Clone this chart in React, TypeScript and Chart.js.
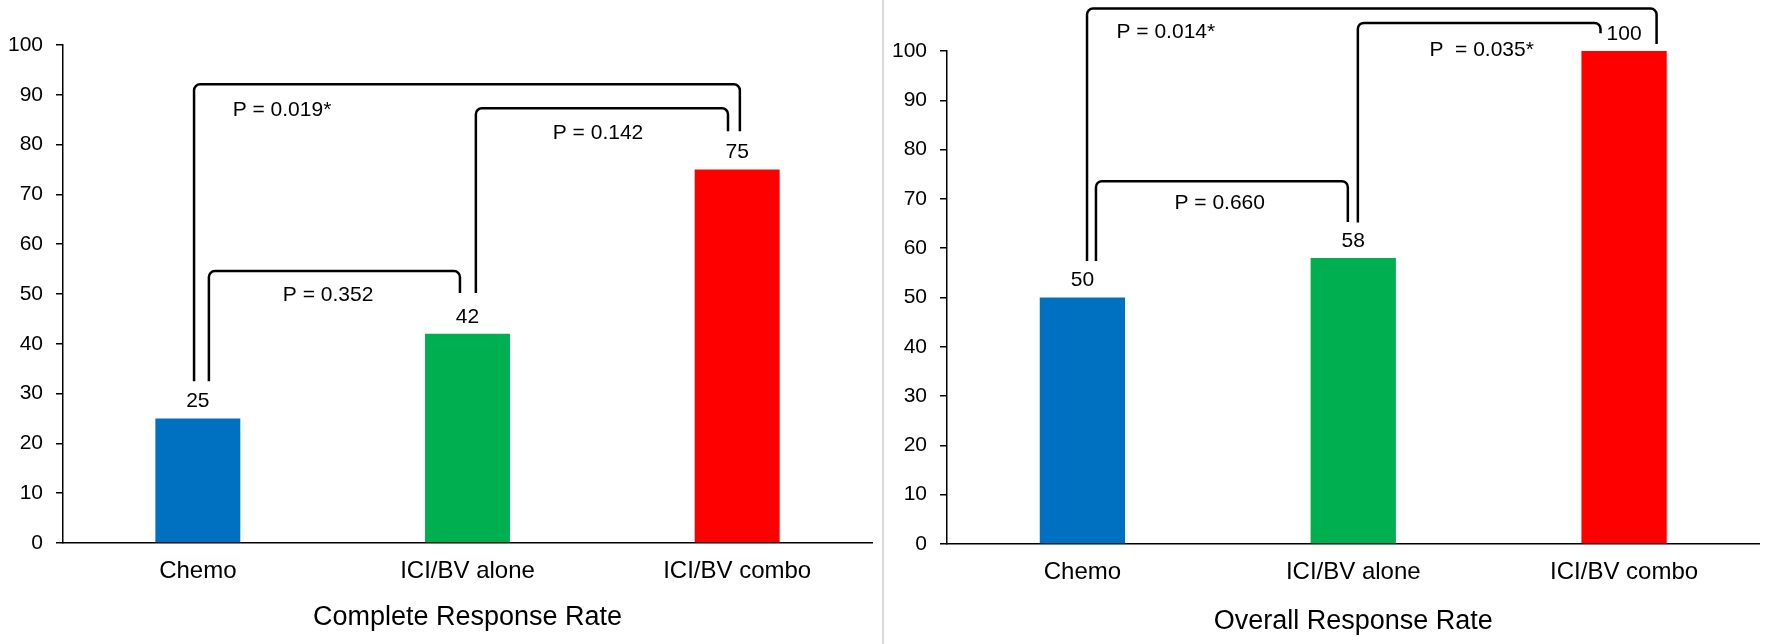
import { Chart, registerables } from 'chart.js';
import { useEffect, useRef } from 'react';

Chart.register(...registerables);

const categories = ['Chemo', 'ICI/BV alone', 'ICI/BV combo'];
const completeResponse = [25, 42, 75];
const overallResponse = [50, 58, 100];
const barColors = ['#0070C0', '#00B050', '#FF0000'];

// brackets in data units: x as category index (fractional), y as rate
interface Bracket {
  from: number;
  to: number;
  fromEnd: number;
  toEnd: number;
  top: number;
}

interface PLabel {
  text: string;
  x: number;
  y: number;
}

const completeBrackets: Bracket[] = [
  { from: -0.014, to: 2.01, fromEnd: 32.5, toEnd: 82.7, top: 92.1 },
  { from: 0.041, to: 0.972, fromEnd: 32.5, toEnd: 50.2, top: 54.6 },
  { from: 1.031, to: 1.966, fromEnd: 50.2, toEnd: 82.7, top: 87.3 },
];
const completeLabels: PLabel[] = [
  { text: 'P = 0.019*', x: 0.312, y: 87 },
  { text: 'P = 0.352', x: 0.483, y: 49.8 },
  { text: 'P = 0.142', x: 1.484, y: 82.3 },
];

const overallBrackets: Bracket[] = [
  { from: 0.017, to: 2.12, fromEnd: 57.4, toEnd: 101.4, top: 108.6 },
  { from: 0.05, to: 0.98, fromEnd: 57.4, toEnd: 65.3, top: 73.6 },
  { from: 1.017, to: 1.913, fromEnd: 65.2, toEnd: 103.6, top: 105.7 },
];
const overallLabels: PLabel[] = [
  { text: 'P = 0.014*', x: 0.308, y: 103.9 },
  { text: 'P = 0.660', x: 0.507, y: 69.2 },
  { text: 'P  = 0.035*', x: 1.474, y: 100.2 },
];

const FONT = '"Liberation Sans", Arial, sans-serif';

const annotationPlugin = {
  id: 'annotations',
  afterDatasetsDraw(chart: any, _args: any, opts: any) {
    const { ctx } = chart;
    const x = chart.scales.x;
    const y = chart.scales.y;
    ctx.save();
    ctx.fillStyle = '#000';
    ctx.textAlign = 'center';
    ctx.textBaseline = 'middle';
    ctx.font = `21px ${FONT}`;

    // value labels above bars
    const values = chart.data.datasets[0].data;
    chart.getDatasetMeta(0).data.forEach((bar: any, i: number) => {
      ctx.fillText(String(values[i]), bar.x, bar.y - 17);
    });

    // significance brackets
    ctx.strokeStyle = '#000';
    ctx.lineWidth = 2.5;
    ctx.lineJoin = 'round';
    (opts.brackets as Bracket[]).forEach((b) => {
      const x0 = x.getPixelForValue(b.from);
      const x1 = x.getPixelForValue(b.to);
      const yt = y.getPixelForValue(b.top);
      ctx.beginPath();
      ctx.moveTo(x0, y.getPixelForValue(b.fromEnd));
      ctx.arcTo(x0, yt, x1, yt, 6);
      ctx.arcTo(x1, yt, x1, y.getPixelForValue(b.toEnd), 6);
      ctx.lineTo(x1, y.getPixelForValue(b.toEnd));
      ctx.stroke();
    });

    (opts.labels as PLabel[]).forEach((l) => {
      ctx.fillText(l.text, x.getPixelForValue(l.x), y.getPixelForValue(l.y));
    });
    ctx.restore();
  },
};

interface ResponseChartProps {
  values: number[];
  brackets: Bracket[];
  labels: PLabel[];
  title: string;
  width: number;
  padTop: number;
  padRight: number;
  axisHeight: number;
  titlePad: number;
}

function ResponseChart({
  values,
  brackets,
  labels,
  title,
  width,
  padTop,
  padRight,
  axisHeight,
  titlePad,
}: ResponseChartProps) {
  const canvasRef = useRef<HTMLCanvasElement>(null);

  useEffect(() => {
    const canvas = canvasRef.current;
    if (!canvas) {
      return undefined;
    }

    const chart = new Chart(canvas, {
      type: 'bar',
      data: {
        labels: categories,
        datasets: [
          {
            data: values,
            backgroundColor: barColors,
            barPercentage: 0.315,
            categoryPercentage: 1,
          },
        ],
      },
      options: {
        animation: false,
        responsive: true,
        maintainAspectRatio: false,
        layout: { padding: { top: padTop, right: padRight, left: 0, bottom: 0 } },
        plugins: {
          legend: { display: false },
          tooltip: { enabled: false },
          annotations: { brackets, labels },
        } as any,
        scales: {
          x: {
            afterFit: (scale: any) => {
              scale.height = axisHeight;
            },
            grid: { display: false, drawTicks: false },
            border: { display: true, color: '#000', width: 1.5 },
            ticks: { color: '#000', padding: 14, font: { family: FONT, size: 24 } },
            title: {
              display: true,
              text: title,
              color: '#000',
              font: { family: FONT, size: 27 },
              padding: { top: 0, bottom: titlePad },
            },
          },
          y: {
            min: 0,
            max: 100,
            afterFit: (scale: any) => {
              scale.width = 63;
            },
            grid: {
              drawOnChartArea: false,
              drawTicks: true,
              tickLength: 7,
              color: '#000',
              lineWidth: 1.5,
            },
            border: { display: true, color: '#000', width: 1.5 },
            ticks: {
              stepSize: 10,
              color: '#000',
              padding: 13,
              font: { family: FONT, size: 21 },
            },
          },
        },
      },
      plugins: [annotationPlugin],
    });

    return () => {
      chart.destroy();
    };
  }, [values, brackets, labels, title, padTop, padRight, axisHeight, titlePad]);

  return (
    <div style={{ position: 'relative', width, height: 644 }}>
      <canvas ref={canvasRef} />
    </div>
  );
}

export default function App() {
  return (
    <div
      style={{
        position: 'fixed',
        top: 0,
        left: 0,
        width: 1772,
        height: 644,
        display: 'flex',
        background: '#fff',
      }}
    >
      <ResponseChart
        values={completeResponse}
        brackets={completeBrackets}
        labels={completeLabels}
        title="Complete Response Rate"
        width={882}
        padTop={45}
        padRight={10}
        axisHeight={101}
        titlePad={10}
      />
      <div style={{ width: 2, height: 644, background: '#d9d9d9' }} />
      <ResponseChart
        values={overallResponse}
        brackets={overallBrackets}
        labels={overallLabels}
        title="Overall Response Rate"
        width={888}
        padTop={51}
        padRight={12.5}
        axisHeight={100}
        titlePad={6}
      />
    </div>
  );
}
